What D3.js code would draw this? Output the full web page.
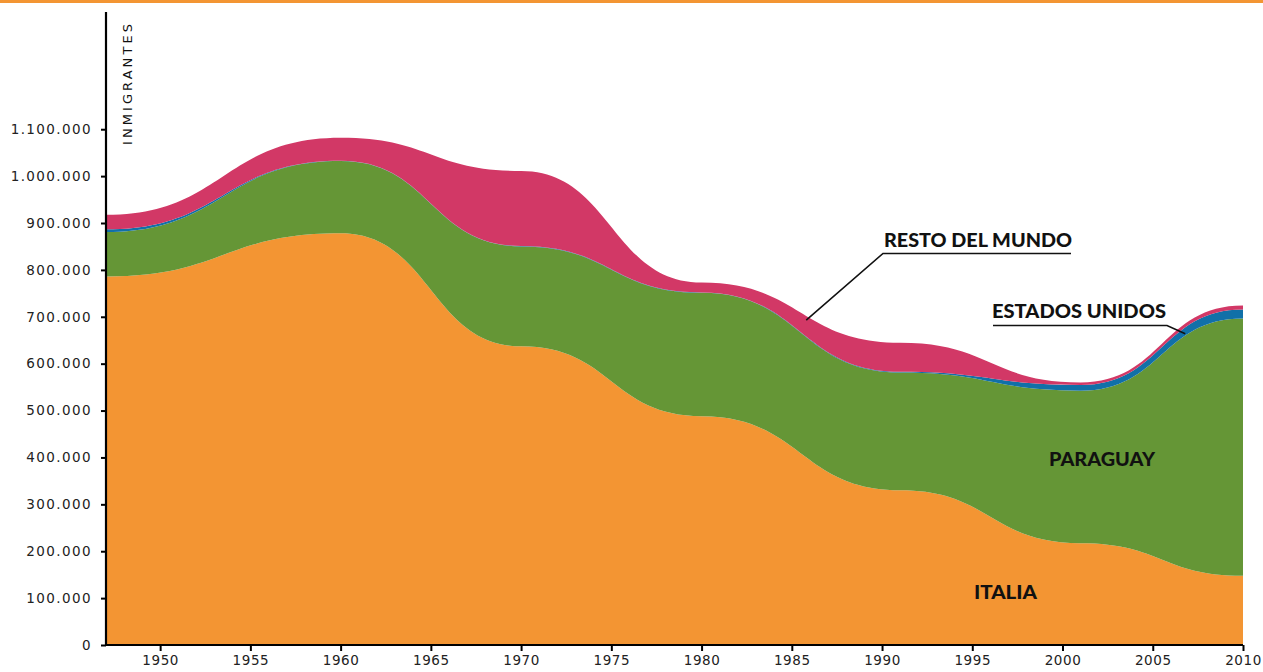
<!DOCTYPE html>
<html>
<head>
<meta charset="utf-8">
<script src="https://cdn.jsdelivr.net/npm/d3@7"></script>
<style>
  html, body { margin: 0; padding: 0; background: #fff; }
  svg { display: block; }
</style>
</head>
<body>
<svg id="chart" width="1263" height="672"></svg>
<script>
// ---- data (census years) ----
const years = [1947, 1960, 1970, 1980, 1991, 2001, 2010];
const italia = [786000, 878000, 637000, 488000, 330000, 217000, 147500];
const paraguay = [95000, 154000, 213000, 263000, 251000, 325500, 549000];
const estadosUnidos = [5500, 1000, 1000, 1000, 1500, 12000, 19000];
const restoDelMundo = [31000, 49000, 160000, 21000, 62000, 5500, 8500];

const seriesKeys = ["italia", "paraguay", "estadosUnidos", "restoDelMundo"];
const seriesColors = ["#f39533", "#659636", "#1170a8", "#d23866"];
const xTicks = [1950, 1955, 1960, 1965, 1970, 1975, 1980, 1985, 1990, 1995, 2000, 2005, 2010];
const yTicks = [0, 100000, 200000, 300000, 400000, 500000, 600000, 700000, 800000, 900000, 1000000, 1100000];
const yLabel = "INMIGRANTES";

const table = years.map((yr, i) => ({
  year: yr,
  italia: italia[i],
  paraguay: paraguay[i],
  estadosUnidos: estadosUnidos[i],
  restoDelMundo: restoDelMundo[i]
}));

const svg = d3.select("#chart");
const W = 1263, H = 672;

// top orange rule
svg.append("rect").attr("x", 0).attr("y", 0).attr("width", W).attr("height", 3).attr("fill", "#f39533");

const x = d3.scaleLinear().domain([1947, 2010]).range([106, 1243]);
const y = d3.scaleLinear().domain([0, 1350000]).range([645, 12]);

const stacked = d3.stack().keys(seriesKeys)(table);

const area = d3.area()
  .x(d => x(d.data.year))
  .y0(d => y(d[0]))
  .y1(d => y(d[1]))
  .curve(d3.curveBumpX);

svg.append("g").selectAll("path")
  .data(stacked)
  .join("path")
  .attr("d", area)
  .attr("fill", (d, i) => seriesColors[i]);

const fontTicks = "'DejaVu Sans', sans-serif";

// y axis
const yAxis = svg.append("g")
  .attr("transform", `translate(${x(1947)},0)`)
  .call(d3.axisLeft(y).tickValues(yTicks).tickSize(5).tickPadding(9)
    .tickFormat(d => d === 0 ? "0" : d3.format(",")(d).replace(/,/g, ".")));
yAxis.select(".domain").attr("stroke", "#000").attr("stroke-width", 2.2)
  .attr("d", `M0,${y(0)}V12`);
yAxis.selectAll(".tick line").attr("stroke", "#000").attr("stroke-width", 2);
yAxis.selectAll(".tick text")
  .attr("fill", "#222")
  .style("font-family", fontTicks)
  .style("font-size", "13.5px")
  .style("letter-spacing", "1.4px");

// x axis
const xAxis = svg.append("g")
  .attr("transform", `translate(0,${y(0)})`)
  .call(d3.axisBottom(x).tickValues(xTicks).tickSize(6).tickPadding(4).tickFormat(d3.format("d")));
xAxis.select(".domain").attr("stroke", "#000").attr("stroke-width", 2.2)
  .attr("d", `M${x(1947)},0H${x(2010)}`);
xAxis.selectAll(".tick line").attr("stroke", "#000").attr("stroke-width", 2);
xAxis.selectAll(".tick text")
  .attr("fill", "#222")
  .style("font-family", fontTicks)
  .style("font-size", "13.5px")
  .style("letter-spacing", "0.6px");

// y label (vertical)
svg.append("text")
  .attr("transform", `translate(131.5,145) rotate(-90)`)
  .attr("text-anchor", "start")
  .attr("textLength", 121)
  .attr("lengthAdjust", "spacing")
  .attr("fill", "#111")
  .style("font-family", fontTicks)
  .style("font-size", "13px")
  .text(yLabel);

// annotation labels
const labelFont = "Lato, sans-serif";
function boldLabel(txt, xx, yy, len, anchor) {
  return svg.append("text")
    .attr("x", xx).attr("y", yy)
    .attr("text-anchor", anchor || "start")
    .attr("textLength", len)
    .attr("lengthAdjust", "spacingAndGlyphs")
    .attr("fill", "#111")
    .style("font-family", labelFont)
    .style("font-weight", 900)
    .style("font-size", "18px")
    .text(txt);
}

boldLabel("RESTO DEL MUNDO", 884, 247, 188);
boldLabel("ESTADOS UNIDOS", 992, 318, 174);
boldLabel("PARAGUAY", 1049, 466, 106);
boldLabel("ITALIA", 974, 599, 63);

// underlines + leader lines
const lineG = svg.append("g").attr("fill", "none").attr("stroke", "#111").attr("stroke-width", 1.6);
lineG.append("path").attr("d", `M${x(1985.8)},${y(693000)}L883,253.5H1071`);
lineG.append("path").attr("d", `M993,325.5H1167L${x(2006.8)},${y(664000)}`);
</script>
</body>
</html>
